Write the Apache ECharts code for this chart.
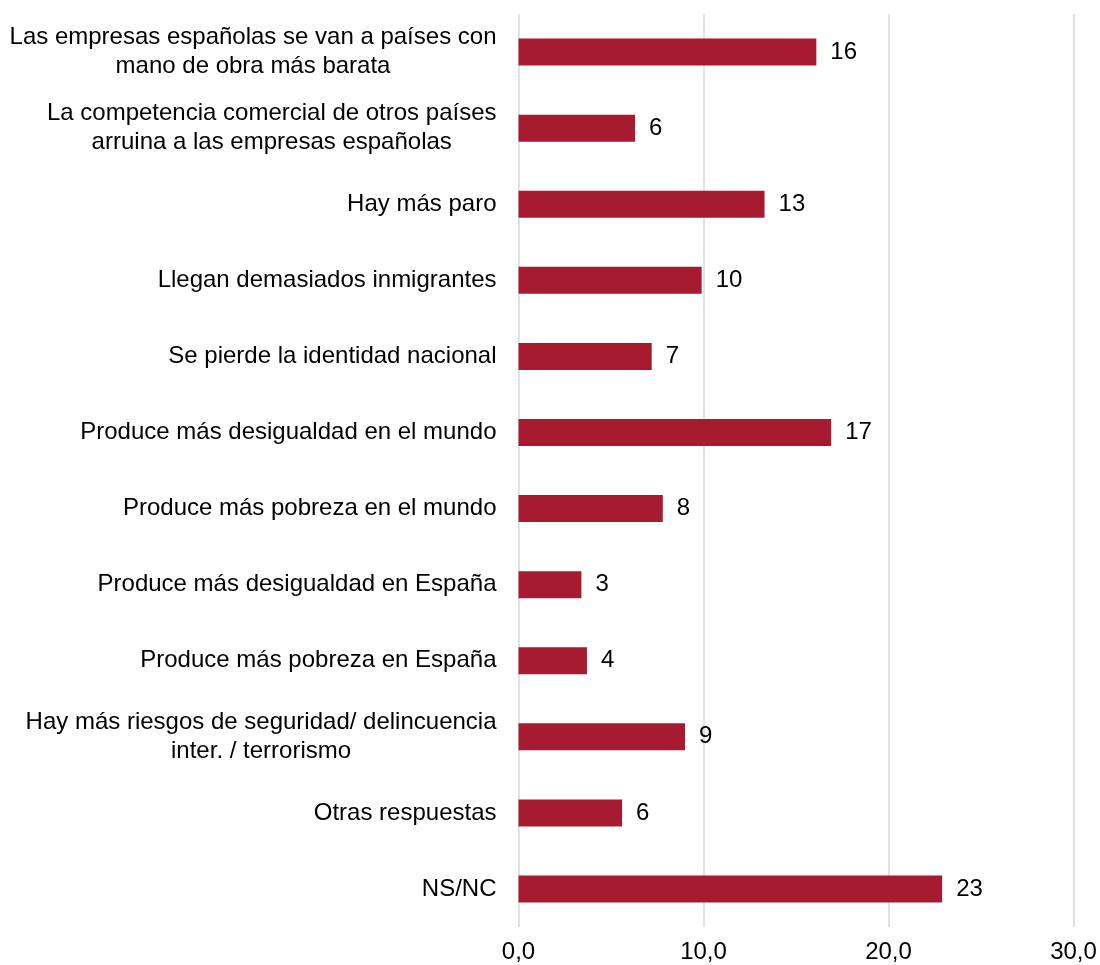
<!DOCTYPE html>
<html>
<head>
<meta charset="utf-8">
<script src="https://cdn.jsdelivr.net/npm/echarts@6/dist/echarts.min.js"></script>
<style>
html,body{margin:0;padding:0;background:#fff;}
#chart{width:1100px;height:965px;}
</style>
</head>
<body>
<div id="chart"></div>
<script>
const categories = [
  "Las empresas españolas se van a países con\nmano de obra más barata",
  "La competencia comercial de otros países\narruina a las empresas españolas",
  "Hay más paro",
  "Llegan demasiados inmigrantes",
  "Se pierde la identidad nacional",
  "Produce más desigualdad en el mundo",
  "Produce más pobreza en el mundo",
  "Produce más desigualdad en España",
  "Produce más pobreza en España",
  "Hay más riesgos de seguridad/ delincuencia\ninter. / terrorismo",
  "Otras respuestas",
  "NS/NC"
];
const values = [16.1, 6.3, 13.3, 9.9, 7.2, 16.9, 7.8, 3.4, 3.7, 9.0, 5.6, 22.9];
const axisTicks = [0, 10, 20, 30];

const FONT = "'Liberation Sans', Arial, sans-serif";
const FS = 24;
const chart = echarts.init(document.getElementById('chart'), null, {renderer: 'canvas'});
chart.setOption({
  animation: false,
  backgroundColor: '#ffffff',
  grid: {left: 518.5, right: 26.5, top: 14, bottom: 38, containLabel: false},
  xAxis: {
    type: 'value',
    min: axisTicks[0],
    max: axisTicks[axisTicks.length - 1],
    interval: axisTicks[1] - axisTicks[0],
    axisLine: {show: false},
    axisTick: {show: false},
    splitLine: {show: true, lineStyle: {color: '#d9d9d9', width: 1.5}},
    axisLabel: {
      margin: 13,
      color: '#000',
      fontFamily: FONT,
      fontSize: FS,
      formatter: v => v.toFixed(1).replace('.', ',')
    }
  },
  yAxis: {
    type: 'category',
    inverse: true,
    data: categories,
    axisLine: {show: false},
    axisTick: {show: false},
    axisLabel: {
      margin: 22,
      color: '#000',
      fontFamily: FONT,
      fontSize: FS,
      lineHeight: 29,
      formatter: v => v.split('\n').map(s => '{c|' + s + '}').join('\n'),
      rich: {c: {align: 'center', color: '#000', fontFamily: FONT, fontSize: FS, lineHeight: 29}}
    }
  },
  series: [{
    type: 'bar',
    data: values,
    barWidth: 27,
    itemStyle: {color: '#a61b30'},
    label: {
      show: true,
      position: 'right',
      distance: 14,
      color: '#000',
      fontFamily: FONT,
      fontSize: FS,
      formatter: p => Math.round(p.value)
    }
  }]
});
</script>
</body>
</html>
